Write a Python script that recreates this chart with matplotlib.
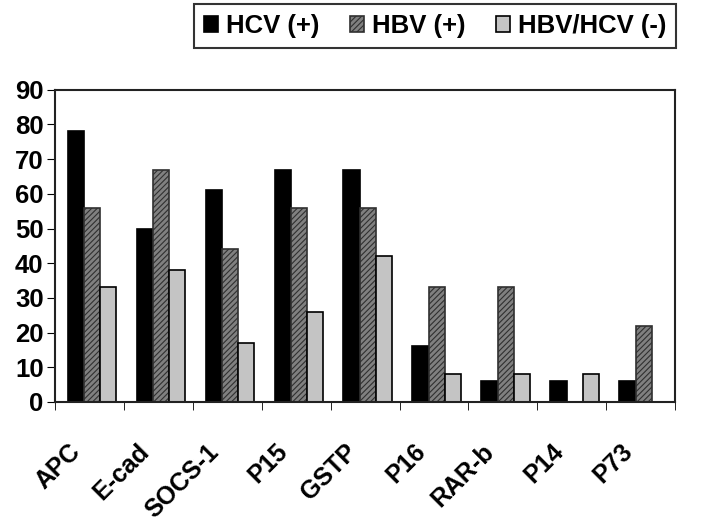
import numpy as np
import matplotlib.pyplot as plt

plt.rcParams['font.family'] = ['Liberation Sans', 'DejaVu Sans']
plt.rcParams['hatch.linewidth'] = 0.8

genes = ["APC", "E-cad", "SOCS-1", "P15", "GSTP", "P16", "RAR-b", "P14", "P73"]
hcv = [78, 50, 61, 67, 67, 16, 6, 6, 6]
hbv = [56, 67, 44, 56, 56, 33, 33, 0, 22]
neg = [33, 38, 17, 26, 42, 8, 8, 8, 0]
series_names = ["HCV (+)", "HBV (+)", "HBV/HCV (-)"]

fig = plt.figure(figsize=(7.2, 5.22), dpi=100)
ax = fig.add_axes([0.076, 0.23, 0.862, 0.598])

x = np.arange(len(genes))
w = 0.235
b1 = ax.bar(x - w + 0.04, hcv, w, color="black", edgecolor="black", linewidth=1.2, label=series_names[0])
b2 = ax.bar(x + 0.04, hbv, w, color="#808080", edgecolor="#303030", hatch="//////", linewidth=1.2, label=series_names[1])
b3 = ax.bar(x + w + 0.04, neg, w, color="#c4c4c4", edgecolor="black", linewidth=1.2, label=series_names[2])

ax.set_xlim(-0.5, len(genes) - 0.5)
ax.set_ylim(0, 90)
ax.set_yticks(range(0, 91, 10))
ax.set_yticklabels([str(v) for v in range(0, 91, 10)], fontsize=18.5, fontweight="bold")
# labels sit a bit left of the group centre, like the original
ax.set_xticks(x - 0.3)
ax.set_xticklabels(genes, fontsize=18, fontweight="bold", rotation=45, ha="right", rotation_mode="anchor")
ax.tick_params(axis="x", which="major", length=0, pad=27)
ax.set_xticks(np.arange(-0.5, len(genes), 1), minor=True)
ax.tick_params(axis="x", which="minor", length=6, direction="out")
ax.tick_params(axis="y", length=6, direction="out", pad=2)
for s in ax.spines.values():
    s.set_linewidth(1.5)
    s.set_color("#222222")

fig.legend(handles=[b1, b2, b3], loc="upper right", bbox_to_anchor=(0.939, 0.992),
           ncol=3, prop={"weight": "bold", "size": 18.5},
           handlelength=0.55, handleheight=0.55, handletextpad=0.3, columnspacing=1.2,
           frameon=True, fancybox=False, edgecolor="black", borderpad=0.38, borderaxespad=0)
fig.legends[0].get_frame().set_linewidth(1.5)

fig.savefig("out.png", dpi=100)
